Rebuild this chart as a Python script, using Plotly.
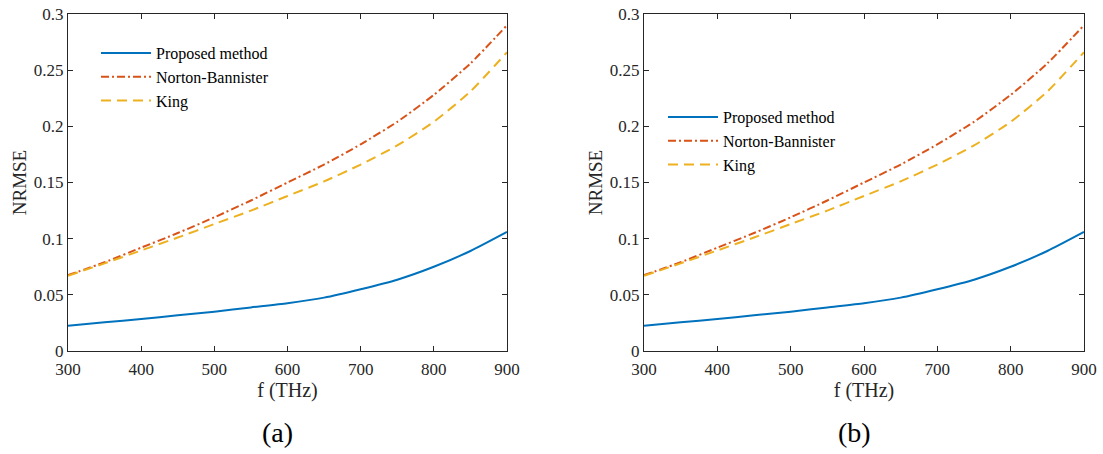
import plotly.graph_objects as go

# ---- data ----
freq_thz = [300, 350, 400, 450, 500, 550, 600, 650, 700, 750, 800, 850, 900]
proposed = [0.0225, 0.0255, 0.0285, 0.0318, 0.0350, 0.0388, 0.0425, 0.0475, 0.0550, 0.0635, 0.0750, 0.0890, 0.1060]
norton_bannister = [0.0675, 0.0790, 0.0920, 0.1050, 0.1190, 0.1340, 0.1500, 0.1660, 0.1840, 0.2040, 0.2280, 0.2560, 0.2900]
king = [0.0670, 0.0780, 0.0895, 0.1010, 0.1130, 0.1250, 0.1380, 0.1510, 0.1660, 0.1830, 0.2040, 0.2310, 0.2660]

series_names = ["Proposed method", "Norton-Bannister", "King"]
x_ticks = [300, 400, 500, 600, 700, 800, 900]
y_ticks = [0, 0.05, 0.1, 0.15, 0.2, 0.25, 0.3]
y_tick_text = ["0", "0.05", "0.1", "0.15", "0.2", "0.25", "0.3"]
panel_labels = ["(a)", "(b)"]

W, H = 1103, 454
FONT = "Liberation Serif, DejaVu Serif, serif"
AX = "#262626"
colors = ["#0072BD", "#D95319", "#EDB120"]
dashes = ["solid", "8px,3px,2px,3px", "10px,6px"]

fig = go.Figure()
series_vals = [proposed, norton_bannister, king]

for panel in range(2):
    xa = "x" if panel == 0 else "x2"
    ya = "y" if panel == 0 else "y2"
    lg = "legend" if panel == 0 else "legend2"
    for name, vals, c, d in zip(series_names, series_vals, colors, dashes):
        fig.add_trace(go.Scatter(
            x=freq_thz, y=vals, name=name, mode="lines",
            line=dict(color=c, width=2, dash=d, shape="spline", smoothing=0.6),
            xaxis=xa, yaxis=ya, legend=lg, showlegend=True,
        ))

ytop = 1 - 14 / H
ybot = 1 - 351 / H
doms = [(68 / W, 507 / W), (644 / W, 1084 / W)]

axis_common = dict(
    showline=True, linecolor=AX, linewidth=1, mirror="ticks",
    ticks="inside", ticklen=5, tickwidth=1, tickcolor=AX,
    showgrid=False, zeroline=False, automargin=False,
    tickfont=dict(family=FONT, size=17, color=AX),
)

layout = dict(
    width=W, height=H, autosize=False,
    margin=dict(l=0, r=0, t=0, b=0, pad=0),
    paper_bgcolor="white", plot_bgcolor="white",
    font=dict(family=FONT, color=AX),
)
for i, (d0, d1) in enumerate(doms):
    sx = "" if i == 0 else "2"
    layout["xaxis" + sx] = dict(
        axis_common, domain=[d0, d1], range=[300, 900], tickvals=x_ticks,
        anchor="y" + sx, ticklabelstandoff=3,
        title=dict(text="f (THz)", font=dict(family=FONT, size=20, color=AX), standoff=0),
    )
    layout["yaxis" + sx] = dict(
        axis_common, domain=[ybot, ytop], range=[0, 0.3], tickvals=y_ticks,
        ticktext=y_tick_text, anchor="x" + sx,
        title=dict(text="NRMSE", font=dict(family=FONT, size=19, color=AX), standoff=2),
    )

leg_common = dict(
    font=dict(family=FONT, size=16, color="black"),
    bgcolor="rgba(255,255,255,0)", borderwidth=0,
    xanchor="left", yanchor="top", tracegroupgap=0, itemwidth=50,
)
layout["legend"] = dict(leg_common, x=96 / W, y=1 - 36 / H)
layout["legend2"] = dict(leg_common, x=663 / W, y=1 - 100 / H)

fig.update_layout(**layout)

for lab, (d0, d1) in zip(panel_labels, doms):
    fig.add_annotation(
        text=lab, x=(d0 + d1) / 2 - 10 / W, y=1 - 432 / H, xref="paper", yref="paper",
        showarrow=False, font=dict(family=FONT, size=28, color="black"),
        xanchor="center", yanchor="middle",
    )

fig.write_html("out.html")
